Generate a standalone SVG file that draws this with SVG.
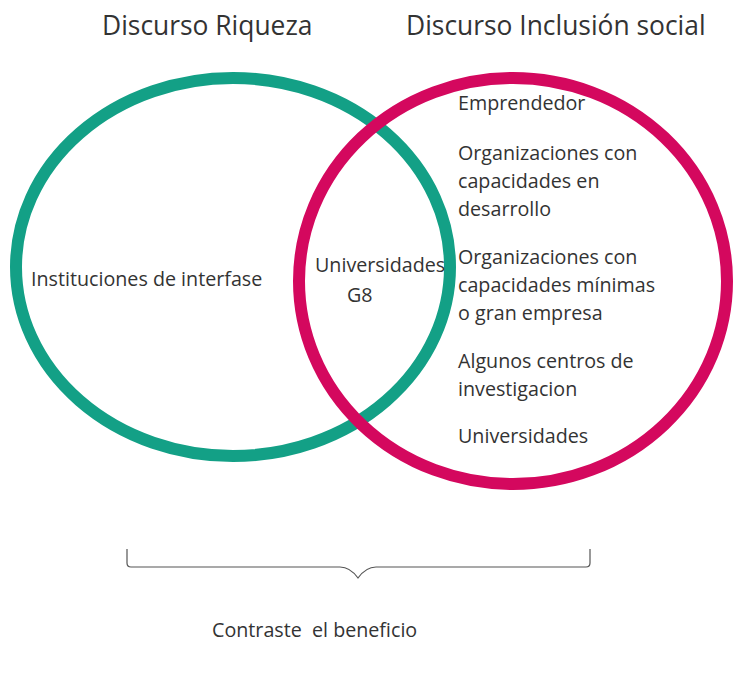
<svg xmlns="http://www.w3.org/2000/svg" width="736" height="675" viewBox="0 0 736 675">
<style>
text{font-family:"Open Sans","Noto Sans",sans-serif;fill:#333;}
.t{font-size:26.4px;}
.b{font-size:19.7px;}
.ring{fill:none;stroke-width:12;}
</style>
<rect width="736" height="675" fill="#fff"/>
<g id="riqueza">
<ellipse class="ring" cx="233" cy="267" rx="217" ry="189" stroke="#13A086"/>
</g>
<g id="inclusion">
<ellipse class="ring" cx="513" cy="281" rx="214" ry="203" stroke="#D4085E"/>
</g>
<g id="titles">
<text class="t" x="102" y="35">Discurso Riqueza</text>
<text class="t" x="406" y="35">Discurso Inclusión social</text>
</g>
<g id="left-label">
<text class="b" x="31" y="286">Instituciones de interfase</text>
</g>
<g id="intersection">
<text class="b" x="315" y="272">Universidades</text>
<text class="b" x="347" y="302">G8</text>
</g>
<g id="right-list">
<text class="b" x="458" y="110">Emprendedor</text>
<text class="b" x="458" y="160">Organizaciones con</text>
<text class="b" x="458" y="188">capacidades en</text>
<text class="b" x="458" y="216">desarrollo</text>
<text class="b" x="458" y="264">Organizaciones con</text>
<text class="b" x="458" y="292">capacidades mínimas</text>
<text class="b" x="458" y="320">o gran empresa</text>
<text class="b" x="458" y="368">Algunos centros de</text>
<text class="b" x="458" y="396">investigacion</text>
<text class="b" x="458" y="443">Universidades</text>
</g>
<g id="connectors">
<path d="M127 549 V563 Q127 567 131 567 H340 Q350 567 358 578 Q366 567 376 567 H586 Q590 567 590 563 V549" fill="none" stroke="#555" stroke-width="1.2"/>
</g>
<g id="caption">
<text class="b" x="212" y="637" xml:space="preserve" style="white-space:pre">Contraste  el beneficio</text>
</g>
</svg>
